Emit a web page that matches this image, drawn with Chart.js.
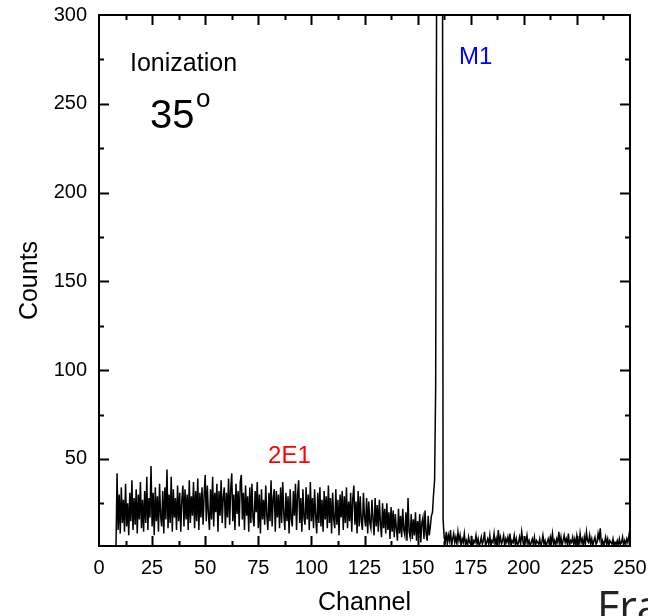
<!DOCTYPE html>
<html lang="en">
<head>
    <meta charset="utf-8" />
    <title>Ionization 35° - Counts vs Channel</title>
    <script src="https://cdn.jsdelivr.net/npm/chart.js"></script>
    <style>
      body { margin: 0; background: #fff; }
      .wrap { position: relative; width: 648px; height: 616px; overflow: hidden; }
      .side-note {
        position: absolute; left: 597px; top: 584px;
        font-family: "Open Sans", sans-serif; font-size: 43px; line-height: 1;
        color: #222; white-space: nowrap;
      }
    </style>
</head>
<body>
    <div class="wrap">
        <canvas id="spectrum" width="648" height="616"></canvas>
        <div class="side-note">Fraction</div>
    </div>

    <script>
        // --- data: counts per channel, channels start at 8 with a 0.5 step ---
        const channelStart = 8;
        const channelStep = 0.5;

        // ch 8 .. 157.5 (2E1 region)
        const countsLow = [
            0, 42, 10, 30, 8, 34, 14, 27, 9, 36, 12, 25, 7, 31, 15, 38, 10, 28, 13, 33,
            8, 30, 16, 37, 11, 27, 9, 32, 14, 40, 10, 28, 17, 46, 12, 31, 7, 34, 15, 29,
            9, 36, 18, 12, 32, 8, 34, 16, 44, 11, 30, 14, 40, 9, 33, 17, 28, 10, 35, 15,
            31, 9, 27, 35, 12, 33, 16, 30, 10, 38, 14, 29, 18, 37, 11, 32, 15, 39, 10, 31,
            17, 34, 13, 30, 41, 15, 35, 19, 10, 33, 16, 40, 12, 31, 20, 36, 9, 32, 18, 38,
            14, 29, 34, 11, 31, 17, 39, 13, 33, 42, 15, 30, 10, 36, 19, 32, 12, 37, 41, 16,
            31, 10, 35, 18, 29, 9, 34, 14, 36, 17, 12, 32, 20, 37, 11, 30, 8, 33, 16, 27,
            13, 35, 18, 10, 31, 15, 38, 12, 28, 33, 9, 32, 17, 30, 11, 34, 14, 37, 19, 10,
            31, 15, 29, 8, 33, 16, 12, 32, 18, 36, 10, 30, 38, 14, 28, 9, 33, 17, 13, 34,
            16, 30, 10, 37, 15, 28, 11, 33, 18, 8, 31, 14, 34, 12, 27, 9, 32, 16, 29, 11,
            35, 14, 28, 8, 31, 16, 11, 33, 13, 27, 7, 30, 17, 32, 10, 29, 14, 34, 11, 26,
            15, 31, 9, 28, 35, 13, 26, 8, 32, 12, 29, 15, 10, 31, 17, 12, 28, 8, 26, 14,
            11, 27, 16, 7, 28, 12, 24, 9, 27, 14, 6, 25, 11, 22, 8, 25, 10, 20, 5, 23,
            9, 21, 6, 19, 11, 4, 22, 8, 18, 6, 22, 10, 7, 20, 4, 28, 9, 6, 19, 5,
            16, 7, 20, 4, 15, 6, 19, 3, 14, 17, 5, 21, 8, 4, 18, 7, 12, 18, 20, 30
        ];

        // ch 158 .. 162 (M1 peak, runs off the top of the plot)
        const countsPeak = [38, 90, 340, 1100, 1600, 1500, 1100, 600, 16];

        // ch 162.5 .. 250
        const countsTail = [
            6, 3, 9, 2, 7, 4, 10, 1, 5, 8, 3, 6, 2, 9, 4, 7, 1, 5, 3, 8,
            2, 4, 1, 6, 3, 2, 5, 1, 4, 3, 7, 2, 5, 1, 3, 6, 2, 4, 9, 1,
            3, 5, 2, 7, 1, 4, 3, 8, 2, 5, 1, 10, 3, 6, 2, 4, 7, 1, 5, 3,
            6, 2, 8, 1, 4, 3, 7, 2, 5, 1, 3, 6, 2, 9, 4, 1, 5, 3, 7, 2,
            4, 1, 3, 5, 2, 6, 1, 4, 3, 2, 5, 1, 3, 7, 2, 4, 1, 3, 5, 2,
            6, 3, 8, 2, 4, 1, 5, 3, 9, 2, 6, 1, 4, 7, 3, 5, 2, 8, 1, 4,
            3, 6, 2, 5, 1, 7, 4, 2, 8, 3, 5, 1, 6, 2, 9, 4, 3, 7, 2, 5,
            1, 4, 6, 2, 3, 8, 5, 11, 2, 4, 1, 3, 6, 2, 5, 1, 4, 3, 2, 5,
            1, 3, 2, 4, 1, 5, 2, 3, 6, 1, 4, 2, 5, 3, 7, 4
        ];

        const xTickValues = [0, 25, 50, 75, 100, 125, 150, 175, 200, 225, 250];
        const yTickValues = [50, 100, 150, 200, 250, 300];

        // text labels placed in data units (channel, counts)
        const notes = [
            { text: "Ionization", x: 14.6, y: 268.5, size: 25, color: "#000" },
            { text: "35", x: 24, y: 236.4, size: 40, color: "#000" },
            { text: "o", x: 45.7, y: 248.3, size: 26, color: "#000" },
            { text: "M1", x: 169.5, y: 272.4, size: 24, color: "#0000ff" },
            { text: "2E1", x: 79.6, y: 47.8, size: 24, color: "#ff0000" }
        ];

        const FONT = '"Liberation Sans", Arial, sans-serif';

        const counts = countsLow.concat(countsPeak, countsTail);
        const points = counts.map((c, i) => ({ x: channelStart + i * channelStep, y: c }));

        // --- frame with inward ticks on all four sides + text notes ---
        const frameTicks = {
            id: "frameTicks",
            afterDraw(chart) {
                const { ctx, chartArea: a, scales: { x, y } } = chart;
                ctx.save();
                ctx.strokeStyle = "#000";
                ctx.lineWidth = 2;
                ctx.strokeRect(a.left, a.top, a.right - a.left, a.bottom - a.top);

                ctx.beginPath();
                for (let v = 12.5; v < 250; v += 12.5) {
                    const px = Math.round(x.getPixelForValue(v)) + 0.5;
                    const len = (v % 25 === 0) ? 10 : 5;
                    ctx.moveTo(px, a.bottom); ctx.lineTo(px, a.bottom - len);
                    ctx.moveTo(px, a.top); ctx.lineTo(px, a.top + len);
                }
                for (let v = 25; v < 300; v += 25) {
                    const py = Math.round(y.getPixelForValue(v)) + 0.5;
                    const len = (v % 50 === 0) ? 10 : 5;
                    ctx.moveTo(a.left, py); ctx.lineTo(a.left + len, py);
                    ctx.moveTo(a.right, py); ctx.lineTo(a.right - len, py);
                }
                ctx.stroke();

                ctx.textAlign = "left";
                ctx.textBaseline = "alphabetic";
                notes.forEach(n => {
                    ctx.fillStyle = n.color;
                    ctx.font = n.size + "px " + FONT;
                    ctx.fillText(n.text, x.getPixelForValue(n.x), y.getPixelForValue(n.y));
                });
                ctx.restore();
            }
        };

        const ctx = document.getElementById("spectrum").getContext("2d");
        new Chart(ctx, {
            type: "line",
            data: {
                datasets: [{
                    label: "Counts",
                    data: points,
                    borderColor: "#000",
                    borderWidth: 1.5,
                    pointRadius: 0,
                    tension: 0,
                    fill: false
                }]
            },
            options: {
                responsive: false,
                animation: false,
                devicePixelRatio: 1,
                layout: { padding: { top: 15, right: 18, left: 0, bottom: 0 } },
                plugins: {
                    legend: { display: false },
                    tooltip: { enabled: false }
                },
                scales: {
                    x: {
                        type: "linear",
                        min: 0,
                        max: 250,
                        grid: { display: false, drawTicks: false },
                        border: { display: false },
                        afterBuildTicks: s => { s.ticks = xTickValues.map(v => ({ value: v })); },
                        afterFit: s => { s.height = 70; s.paddingLeft = 0; s.paddingRight = 0; },
                        ticks: {
                            padding: 10,
                            maxRotation: 0,
                            color: "#000",
                            font: { family: FONT, size: 20 }
                        },
                        title: {
                            display: true,
                            text: "Channel",
                            color: "#000",
                            padding: { top: 0, bottom: 0 },
                            font: { family: FONT, size: 25, lineHeight: 1 }
                        }
                    },
                    y: {
                        min: 1,
                        max: 300,
                        grid: { display: false, drawTicks: false },
                        border: { display: false },
                        afterBuildTicks: s => { s.ticks = yTickValues.map(v => ({ value: v })); },
                        afterFit: s => { s.width = 99; s.paddingTop = 0; s.paddingBottom = 0; },
                        ticks: {
                            padding: 12,
                            color: "#000",
                            font: { family: FONT, size: 20 }
                        },
                        title: {
                            display: true,
                            text: "Counts",
                            color: "#000",
                            padding: { top: 18, bottom: 0 },
                            font: { family: FONT, size: 25, lineHeight: 1 }
                        }
                    }
                }
            },
            plugins: [frameTicks]
        });
    </script>
</body>
</html>
